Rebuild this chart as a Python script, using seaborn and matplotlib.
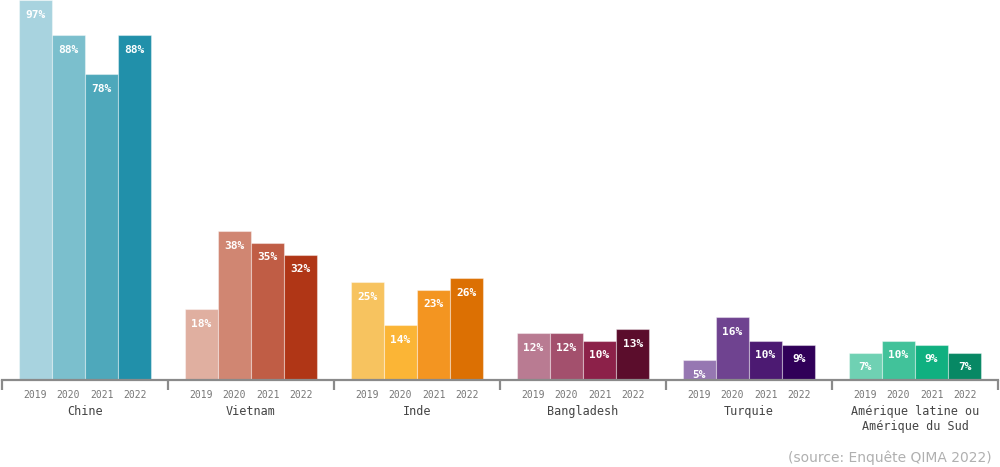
import matplotlib
matplotlib.use("Agg")
import matplotlib.pyplot as plt
import seaborn as sns
import pandas as pd
import numpy as np

countries = ["Chine", "Vietnam", "Inde", "Bangladesh", "Turquie", "Amérique latine ou\nAmérique du Sud"]
years = ["2019", "2020", "2021", "2022"]
values = {
    "Chine": [97, 88, 78, 88],
    "Vietnam": [18, 38, 35, 32],
    "Inde": [25, 14, 23, 26],
    "Bangladesh": [12, 12, 10, 13],
    "Turquie": [5, 16, 10, 9],
    "Amérique latine ou\nAmérique du Sud": [7, 10, 9, 7],
}
colors = {
    "Chine": ["#a8d3df", "#7bbfcd", "#4ea8bb", "#2190aa"],
    "Vietnam": ["#e0afa0", "#d08672", "#c05d45", "#b03616"],
    "Inde": ["#f7c35f", "#fbb536", "#f39521", "#dc7003"],
    "Bangladesh": ["#b97b92", "#a3506d", "#8c2149", "#5b0d2c"],
    "Turquie": ["#9677b2", "#6f4390", "#4c1a72", "#300058"],
    "Amérique latine ou\nAmérique du Sud": ["#6fd1b3", "#41c29a", "#10b080", "#078864"],
}

rows = []
for g, c in enumerate(countries):
    for j, y in enumerate(years):
        rows.append({"pos": 5 * g + j + 1, "value": values[c][j], "key": f"{c}-{y}",
                     "color": colors[c][j], "year": y, "country": c})
df = pd.DataFrame(rows)

sns.set_theme(style="white")
fig = plt.figure(figsize=(10, 4.67), dpi=100)
ax = fig.add_axes([0.002, 0.1863, 0.996, 0.8137])

sns.barplot(data=df, x="pos", y="value", hue="key",
            palette=dict(zip(df["key"], df["color"])), saturation=1,
            native_scale=True, width=1.0, dodge=False, legend=False,
            edgecolor=(1, 1, 1, 0.4), linewidth=0.8, ax=ax)

ax.set_xlim(0, 30)
ax.set_ylim(0, 97)
ax.set_xlabel("")
ax.set_ylabel("")
ax.set_yticks([])
for s in ["top", "left", "right"]:
    ax.spines[s].set_visible(False)
ax.spines["bottom"].set_color("#8a8a8a")
ax.spines["bottom"].set_linewidth(1.6)

ax.set_xticks(np.arange(0, 31, 5))
ax.set_xticklabels([])
ax.tick_params(axis="x", which="major", direction="out", length=7, width=1.6,
               color="#8a8a8a", bottom=True)
ax.set_xticks(df["pos"].values, minor=True)
ax.set_xticklabels(df["year"].values, minor=True, fontsize=7,
                   family="DejaVu Sans Mono", color="#777777")
ax.tick_params(axis="x", which="minor", length=0, pad=7)

# value labels
for _, r in df.iterrows():
    ax.annotate(f"{r['value']}%", (r["pos"], r["value"]), xytext=(0, -10.5),
                textcoords="offset points", ha="center", va="center",
                fontsize=8, fontweight="bold", family="DejaVu Sans Mono",
                color="white")

# group labels
for g, c in enumerate(countries):
    ax.annotate(c, (5 * g + 2.5, 0), xycoords="data", xytext=(0, -18),
                textcoords="offset points", ha="center", va="top",
                fontsize=8.5, family="DejaVu Sans Mono", color="#444444",
                linespacing=1.25)

fig.text(0.992, 0.004, "(source: Enquête QIMA 2022)", ha="right", va="bottom",
         fontsize=10, color="#b0b0b0", family="DejaVu Sans")

fig.savefig("out.png", dpi=100)
